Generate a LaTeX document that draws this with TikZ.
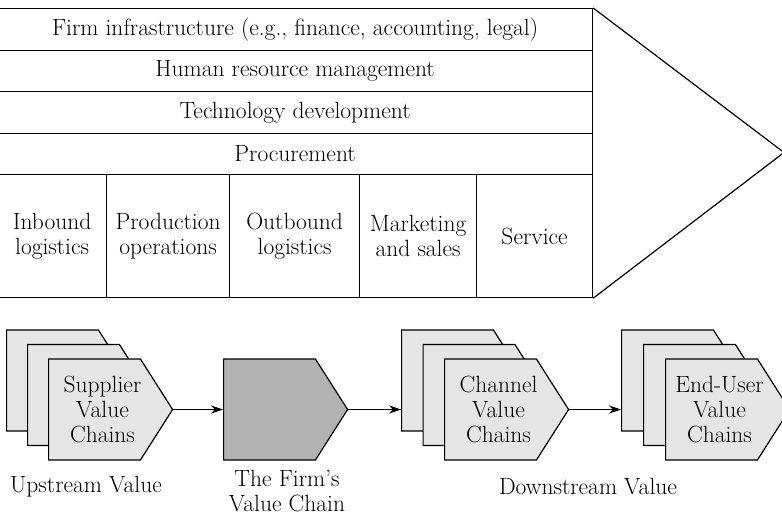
\documentclass[tikz,border=0pt]{standalone}
\usetikzlibrary{positioning,arrows.meta,shapes.symbols}
\definecolor{chainlight}{gray}{0.9}
\definecolor{chaindark}{gray}{0.7}
\tikzset{
actrow/.style={
  draw,
  minimum width=595pt,
  minimum height=41.5pt,
  inner sep=0pt,
  anchor=north west
  },
primcell/.style={
  draw,
  minimum height=123pt,
  inner sep=0pt,
  align=center,
  anchor=north west
  },
chain/.style={
  signal, signal to=east, signal pointer angle=115,
  draw, fill=chainlight,
  minimum width=124pt, minimum height=101pt,
  inner sep=0pt, anchor=west
  },
flow/.style={-{Stealth[length=12pt,width=8pt]}, line width=1pt}
}

\begin{document}
\begin{tikzpicture}[x=1pt, y=-1pt, line width=1.2pt,
    font=\fontsize{23.5}{25}\selectfont]
  \useasboundingbox (0,0) rectangle (782,525);

  % support activities
  \node[actrow] (infra) at (-3,8)     {Firm infrastructure (e.g., finance, accounting, legal)};
  \node[actrow] (hrm)   at (-3,49.5)  {Human resource management};
  \node[actrow] (tech)  at (-3,91)    {Technology development};
  \node[actrow] (proc)  at (-3,132.5) {Procurement};

  % primary activities
  \node[primcell, minimum width=109pt] (inbound)  at (-3,174)  {Inbound\\logistics};
  \node[primcell, minimum width=123pt] (prod)     at (106,174) {Production\\operations};
  \node[primcell, minimum width=130pt] (outbound) at (229,174) {Outbound\\logistics};
  \node[primcell, minimum width=117pt] (market)   at (359,174) {Marketing\\and sales};
  \node[primcell, minimum width=116pt] (service)  at (476,174) {Service};

  % margin
  \coordinate (tip) at (784,152.5);
  \draw (infra.north east) -- (tip) -- (service.south east);

  % upstream stack
  \node[chain] (sup3) at (6,380.5) {};
  \node[chain] (sup2) at (27,395) {};
  \node[chain, label={[align=center,xshift=8pt]center:Supplier\\Value\\Chains}] (sup1) at (48,409.5) {};

  % the firm
  \node[chain, fill=chaindark] (firm) at (223,409.5) {};

  % downstream stacks
  \node[chain] (chan3) at (401,380.5) {};
  \node[chain] (chan2) at (422.5,395) {};
  \node[chain, label={[align=center,xshift=8pt]center:Channel\\Value\\Chains}] (chan1) at (444,409.5) {};

  \node[chain] (user3) at (621,380.5) {};
  \node[chain] (user2) at (643,395) {};
  \node[chain, label={[align=center,xshift=8pt]center:End-User\\Value\\Chains}] (user1) at (665,409.5) {};

  \draw[flow] (sup1.east) -- (firm.west);
  \draw[flow] (firm.east) -- (firm.east -| chan3.west);
  \draw[flow] (chan1.east) -- (chan1.east -| user3.west);

  \node (upstream)   at (86,487)  {Upstream Value};
  \node[align=center] (firmlabel) at (287,491) {The Firm's\\Value Chain};
  \node (downstream) at (588,487) {Downstream Value};
\end{tikzpicture}
\end{document}
